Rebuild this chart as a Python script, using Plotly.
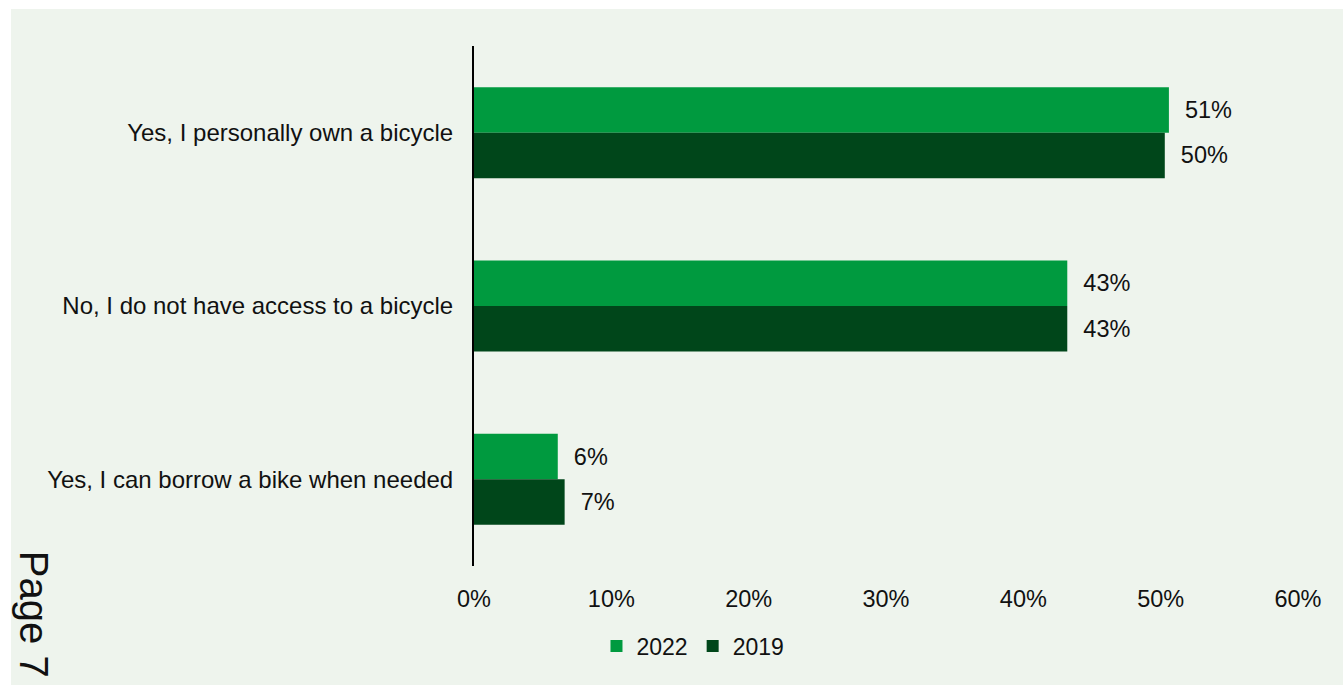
import plotly.graph_objects as go

# Survey responses: access to a bicycle (share of respondents, %)
categories = [
    "Yes, I personally own a bicycle",
    "No, I do not have access to a bicycle",
    "Yes, I can borrow a bike when needed",
]
values_2022 = [50.6, 43.2, 6.1]
values_2019 = [50.3, 43.2, 6.6]
x_ticks = [0, 10, 20, 30, 40, 50, 60]
x_tick_labels = ["0%", "10%", "20%", "30%", "40%", "50%", "60%"]

panel = "#EEF4ED"
green_2022 = "#009A3F"
green_2019 = "#00461A"
font_family = "Liberation Sans, Arial, sans-serif"
nbsp = "\u00a0"

fig = go.Figure()
for name, vals, col in [("2022", values_2022, green_2022),
                        ("2019", values_2019, green_2019)]:
    fig.add_trace(go.Bar(
        name=name, y=categories, x=vals, orientation="h",
        marker=dict(color=col, line=dict(width=0)),
        texttemplate=nbsp * 2 + "%{x:.0f}%", textposition="outside",
        textfont=dict(size=23.5, color="#111111", family=font_family),
        cliponaxis=False,
    ))

fig.update_layout(
    width=1343, height=685,
    margin=dict(l=474, r=45, t=46, b=118),
    paper_bgcolor=panel, plot_bgcolor=panel,
    barmode="group", bargap=0.475, bargroupgap=0,
    font=dict(family=font_family, size=23, color="#111111"),
    showlegend=True,
    legend=dict(orientation="h", xref="container", yref="container",
                x=0.516, y=0.057, xanchor="center", yanchor="middle",
                font=dict(size=23), bgcolor="rgba(0,0,0,0)"),
    xaxis=dict(range=[0, 60], tickvals=x_ticks, ticktext=x_tick_labels,
               showgrid=False, zeroline=False, showline=False,
               ticklabelstandoff=17, tickfont=dict(size=23.5)),
    yaxis=dict(autorange="reversed", showline=True, linecolor="#000000",
               linewidth=2, showgrid=False, zeroline=False,
               ticklabelstandoff=14, tickfont=dict(size=24)),
    shapes=[
        # white page border above and left of the panel
        dict(type="rect", xref="paper", yref="paper", x0=-1, x1=2,
             y0=(567 - 9) / 521, y1=1.5, fillcolor="white",
             line=dict(width=0), layer="below"),
        dict(type="rect", xref="paper", yref="paper", x0=-1,
             x1=(11 - 474) / 824, y0=-1, y1=1.5, fillcolor="white",
             line=dict(width=0), layer="below"),
    ],
    annotations=[
        dict(text="Page 7", xref="paper", yref="paper",
             x=(34 - 474) / 824, y=(567 - 615) / 521,
             xanchor="center", yanchor="middle", textangle=90,
             showarrow=False, font=dict(size=40, color="#111111")),
    ],
)

fig.write_html("out.html")
